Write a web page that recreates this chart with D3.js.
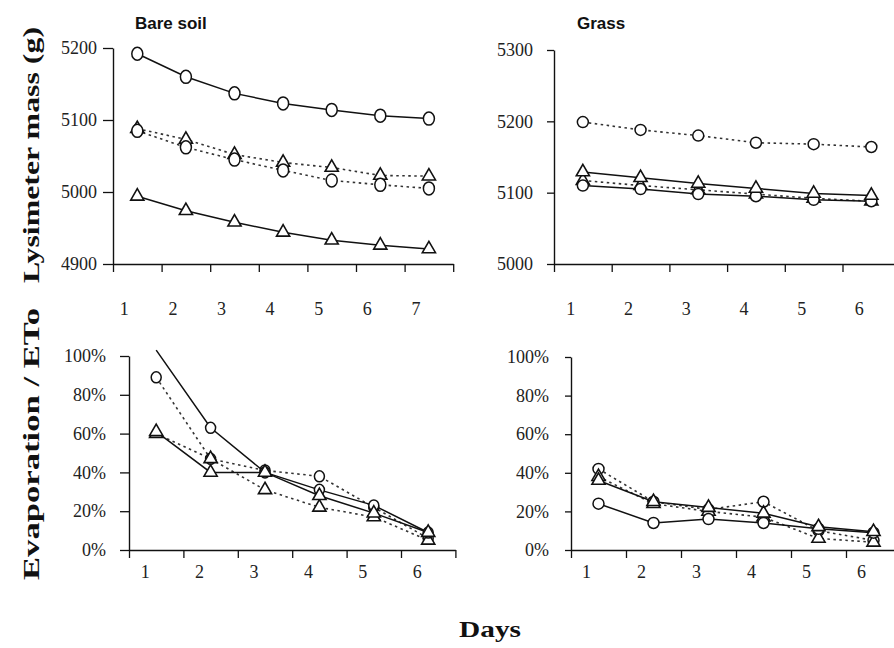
<!DOCTYPE html>
<html><head><meta charset="utf-8">
<script src="https://cdn.jsdelivr.net/npm/d3@7"></script>
<style>
html,body{margin:0;padding:0;background:#fff;}
svg{display:block;}
</style></head>
<body>
<svg id="chart" width="894" height="648"></svg>
<script>
// ---------------- DATA ----------------
const daysBare = [1, 2, 3, 4, 5, 6, 7];
const daysGrass = [1, 2, 3, 4, 5, 6];
const daysEvap = [1, 2, 3, 4, 5, 6];

const massTicksBare = [4900, 5000, 5100, 5200];
const massTicksGrass = [5000, 5100, 5200, 5300];
const evapTicks = [0, 20, 40, 60, 80, 100];

// Bare soil lysimeter mass (g)
const bareMassSolidCircle   = [5192, 5160, 5137, 5123, 5114, 5106, 5102];
const bareMassDottedTriangle = [5088, 5073, 5052, 5041, 5034, 5023, 5022];
const bareMassDottedCircle  = [5085, 5062, 5045, 5030, 5016, 5010, 5005];
const bareMassSolidTriangle = [4994, 4974, 4958, 4944, 4933, 4926, 4921];

// Grass lysimeter mass (g)
const grassMassDottedCircle  = [5199, 5188, 5180, 5170, 5168, 5164];
const grassMassSolidTriangle = [5129, 5121, 5113, 5106, 5099, 5096];
const grassMassDottedTriangle = [5117, 5110, 5104, 5098, 5092, 5088];
const grassMassSolidCircle   = [5110, 5105, 5098, 5095, 5090, 5088];

// Bare soil evaporation / ETo (%)
const bareEvapSolidCircle   = [103, 63, 40, 31, 23, 9];
const bareEvapSolidTriangle = [61, 40, 40, 28, 19, 9];
const bareEvapDottedCircle  = [89, 47, 41, 38, 22, 6];
const bareEvapDottedTriangle = [60, 47, 31, 22, 17, 5];

// Grass evaporation / ETo (%)
const grassEvapSolidCircle   = [24, 14, 16, 14, 11, 9];
const grassEvapSolidTriangle = [36, 25, 22, 19, 12, 9.5];
const grassEvapDottedCircle  = [42, 25, 21, 25, 10, 5];
const grassEvapDottedTriangle = [38, 24, 20, 17, 6, 4];

const panelTitles = ["Bare soil", "Grass"];
const yTitleTop = "Lysimeter mass (g)";
const yTitleBottom = "Evaporation / ETo";
const xTitle = "Days";

// ---------------- DRAW ----------------
const svg = d3.select("#chart");
const SERIF = "'Liberation Serif','Times New Roman',serif";
const SANS = "'Liberation Sans',Arial,sans-serif";

function panel(cfg) {
  const x = d3.scaleLinear().domain([0, cfg.nTicks]).range([cfg.x0, cfg.x0 + cfg.step * cfg.nTicks]);
  const y = d3.scaleLinear().domain(cfg.yDomain).range([cfg.yBottom, cfg.yTop]);
  const g = svg.append("g");

  // y axis
  const ya = g.append("g").attr("transform", `translate(${cfg.x0},0)`)
    .call(d3.axisLeft(y).tickValues(cfg.yTicks).tickSize(cfg.yTick).tickPadding(cfg.yPad).tickSizeOuter(0)
      .tickFormat(cfg.yFmt));
  ya.attr("font-family", null).attr("font-size", null);
  ya.select(".domain").attr("stroke", "#111").attr("stroke-width", 1.4);
  ya.selectAll(".tick line").attr("stroke", "#111").attr("stroke-width", 1.3);
  ya.selectAll(".tick text").style("font-family", SERIF).style("font-size", "18px").attr("fill", "#222");

  // x axis (ticks at day boundaries)
  const xa = g.append("g").attr("transform", `translate(0,${cfg.yBottom})`)
    .call(d3.axisBottom(x).tickValues(d3.range(cfg.nTicks + 1)).tickSize(8).tickSizeOuter(0).tickFormat(""));
  xa.select(".domain").attr("stroke", "#111").attr("stroke-width", 1.4);
  xa.selectAll(".tick line").attr("stroke", "#111").attr("stroke-width", 1.3);

  // x labels
  g.selectAll("text.xl").data(cfg.days).enter().append("text")
    .attr("class", "xl")
    .attr("x", (d, i) => x(i + 0.5) - cfg.labelShift)
    .attr("y", cfg.xLabelY)
    .attr("text-anchor", "middle")
    .style("font-family", SERIF).style("font-size", "18px").attr("fill", "#222")
    .text(d => d);

  const px = i => x(i + 0.5);
  const line = d3.line().x((d, i) => px(i)).y(d => y(d));

  cfg.series.forEach(s => {
    g.append("path").datum(s.values)
      .attr("fill", "none").attr("stroke", s.dotted ? "#333" : "#111")
      .attr("stroke-width", s.dotted ? 1.6 : 1.5)
      .attr("stroke-dasharray", s.dotted ? "2.5,3.5" : null)
      .attr("d", line);
  });
  cfg.series.forEach(s => {
    const pts = s.values.map((v, i) => ({ v, i })).filter(p => p.v <= cfg.yDomain[1]);
    if (s.marker === "circle") {
      g.selectAll(null).data(pts).enter().append("ellipse")
        .attr("cx", p => px(p.i)).attr("cy", p => y(p.v))
        .attr("rx", cfg.rx).attr("ry", cfg.ry)
        .attr("fill", "#fff").attr("stroke", "#111").attr("stroke-width", 1.5);
    } else {
      const tri = d3.symbol().type(d3.symbolTriangle).size(cfg.triSize);
      g.selectAll(null).data(pts).enter().append("path")
        .attr("transform", p => `translate(${px(p.i)},${y(p.v)})`)
        .attr("d", tri)
        .attr("fill", "#fff").attr("stroke", "#111").attr("stroke-width", 1.6);
    }
  });

  if (cfg.title) {
    svg.append("text").attr("x", cfg.titleX).attr("y", 29)
      .style("font-family", SANS).style("font-weight", "bold").style("font-size", "17px")
      .attr("fill", "#111").text(cfg.title);
  }
}

const fmtPct = d => d + "%";

panel({
  days: daysBare, nTicks: 7, x0: 113, step: 48.6,
  yDomain: [4900, 5200], yTicks: massTicksBare, yTop: 48, yBottom: 264,
  yTick: 10, yPad: 6, yFmt: d => d,
  labelShift: 13, xLabelY: 315, rx: 5.5, ry: 6.5, triSize: 75,
  title: panelTitles[0], titleX: 135,
  series: [
    { values: bareMassDottedTriangle, marker: "triangle", dotted: true },
    { values: bareMassDottedCircle, marker: "circle", dotted: true },
    { values: bareMassSolidCircle, marker: "circle", dotted: false },
    { values: bareMassSolidTriangle, marker: "triangle", dotted: false }
  ]
});

panel({
  days: daysGrass, nTicks: 6, x0: 554, step: 57.7,
  yDomain: [5000, 5300], yTicks: massTicksGrass, yTop: 50, yBottom: 264,
  yTick: 7, yPad: 14, yFmt: d => d,
  labelShift: 12, xLabelY: 315, rx: 5.5, ry: 5.5, triSize: 75,
  title: panelTitles[1], titleX: 577,
  series: [
    { values: grassMassDottedCircle, marker: "circle", dotted: true },
    { values: grassMassDottedTriangle, marker: "triangle", dotted: true },
    { values: grassMassSolidCircle, marker: "circle", dotted: false },
    { values: grassMassSolidTriangle, marker: "triangle", dotted: false }
  ]
});

panel({
  days: daysEvap, nTicks: 6, x0: 129, step: 54.4,
  yDomain: [0, 100], yTicks: evapTicks, yTop: 356, yBottom: 550,
  yTick: 9, yPad: 14, yFmt: fmtPct,
  labelShift: 11, xLabelY: 578, rx: 5, ry: 5.5, triSize: 75,
  series: [
    { values: bareEvapDottedCircle, marker: "circle", dotted: true },
    { values: bareEvapDottedTriangle, marker: "triangle", dotted: true },
    { values: bareEvapSolidCircle, marker: "circle", dotted: false },
    { values: bareEvapSolidTriangle, marker: "triangle", dotted: false }
  ]
});

panel({
  days: daysEvap, nTicks: 6, x0: 571, step: 55,
  yDomain: [0, 100], yTicks: evapTicks, yTop: 357, yBottom: 550,
  yTick: 6, yPad: 16, yFmt: fmtPct,
  labelShift: 12, xLabelY: 578, rx: 5.5, ry: 5.5, triSize: 75,
  series: [
    { values: grassEvapDottedCircle, marker: "circle", dotted: true },
    { values: grassEvapDottedTriangle, marker: "triangle", dotted: true },
    { values: grassEvapSolidCircle, marker: "circle", dotted: false },
    { values: grassEvapSolidTriangle, marker: "triangle", dotted: false }
  ]
});

// axis titles
svg.append("text")
  .attr("transform", "translate(39,155) rotate(-90)")
  .attr("text-anchor", "middle")
  .style("font-family", SERIF).style("font-weight", "bold").style("font-size", "24px")
  .attr("textLength", 256).attr("lengthAdjust", "spacingAndGlyphs")
  .attr("fill", "#111").text(yTitleTop);
svg.append("text")
  .attr("transform", "translate(39,444) rotate(-90)")
  .attr("text-anchor", "middle")
  .style("font-family", SERIF).style("font-weight", "bold").style("font-size", "24px")
  .attr("textLength", 272).attr("lengthAdjust", "spacingAndGlyphs")
  .attr("fill", "#111").text(yTitleBottom);
svg.append("text")
  .attr("x", 490).attr("y", 637)
  .attr("text-anchor", "middle")
  .style("font-family", SERIF).style("font-weight", "bold").style("font-size", "23px")
  .attr("textLength", 62).attr("lengthAdjust", "spacingAndGlyphs")
  .attr("fill", "#111").text(xTitle);
</script>
</body></html>
